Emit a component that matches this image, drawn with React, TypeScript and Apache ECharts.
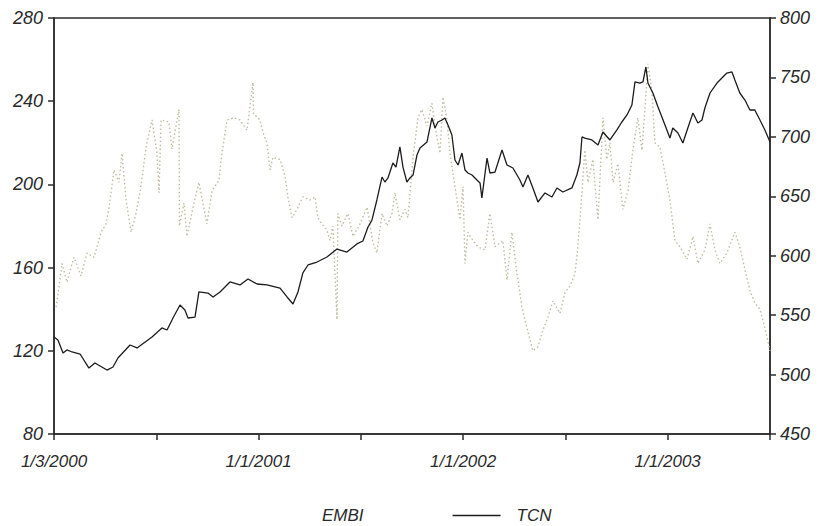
import React, { useEffect, useRef } from "react";
import * as echarts from "echarts";

// x = months since 3 Jan 2000
const xTickLabels: Record<number, string> = { 0: "1/3/2000", 12: "1/1/2001", 24: "1/1/2002", 36: "1/1/2003" };

const leftTicks = [80, 120, 160, 200, 240, 280];
const rightTicks = [450, 500, 550, 600, 650, 700, 750, 800];

const seriesNames = ["EMBI", "TCN"];

// EMBI (left axis)
const embiPoints: number[][] = [
  [0.12,141],[0.18,144],[0.47,162],[0.76,153],[1.17,165],[1.58,156],[1.94,167],[2.35,165],[2.76,177],[3.05,181],
  [3.23,189],[3.52,207],[3.81,201],[3.99,215],[4.22,193],[4.52,177],[4.81,186],[5.10,199],[5.40,218],[5.75,231],
  [6.04,215],[6.16,196],[6.28,231],[6.74,230],[6.92,217],[7.33,236],[7.36,180],[7.62,191],[7.80,175],[8.21,191],
  [8.50,201],[8.97,181],[9.27,197],[9.68,202],[9.85,215],[10.15,231],[10.56,232],[10.91,231],[11.32,226],[11.67,249],
  [11.70,234],[12.08,231],[12.26,225],[12.49,220],[12.67,207],[12.84,213],[13.26,212],[13.55,204],[13.72,194],[13.96,184],
  [14.25,188],[14.60,194],[15.01,192.5],[15.31,194],[15.48,184],[15.72,181],[16.01,178],[16.19,173],[16.36,180],[16.60,135],
  [16.65,186],[16.89,180],[17.24,186],[17.54,175],[17.95,181],[18.36,189],[18.71,172],[18.94,167],[19.24,186],[19.53,180],
  [19.82,186],[20.0,196],[20.29,183],[20.59,188],[20.76,184],[21.06,213],[21.35,232],[21.58,236],[21.88,228],[22.17,239],
  [22.35,228],[22.64,215],[22.82,242],[23.05,231],[23.23,215],[23.40,205.5],[23.64,192.5],[23.81,183],[23.99,199],[24.11,162],
  [24.28,177],[24.57,173],[24.87,170],[25.28,168.5],[25.57,186],[25.87,170],[26.33,173],[26.57,154],[26.86,177],[27.16,157],
  [27.45,141],[27.74,131],[28.09,120],[28.39,122],[28.68,130],[28.97,136],[29.27,144],[29.68,138],[29.97,148],[30.26,151],
  [30.56,157],[30.73,170],[30.97,196],[31.14,216.5],[31.32,201],[31.61,212],[31.91,183],[32.20,232],[32.43,212],[32.61,220],
  [32.79,201],[33.08,210],[33.37,188],[33.67,197],[33.96,216.5],[34.25,232],[34.49,216.5],[34.66,236],[34.84,258],[35.07,245],
  [35.25,220],[35.54,218],[35.84,205.5],[36.13,192.5],[36.42,173],[36.72,170],[37.13,164],[37.48,175],[37.77,162],[38.18,168.5],
  [38.48,181],[38.77,168.5],[39.06,162],[39.47,167],[39.94,177],[40.23,170],[40.53,159],[40.82,149],[41.11,143],[41.41,140],
  [41.70,131],[42.0,120]
];

// TCN (right axis)
const tcnPoints: number[][] = [
  [0,531.6],[0.23,529.1],[0.53,518.1],[0.76,520.7],[1.06,519.0],[1.53,517.3],[2.05,505.5],[2.40,509.7],[3.11,503.8],[3.46,506.4],
  [3.75,513.9],[4.46,524.9],[4.87,522.4],[5.75,531.6],[6.33,539.2],[6.63,537.5],[6.98,547.6],[7.39,558.5],[7.68,554.3],[7.86,547.6],
  [8.27,548.4],[8.50,569.5],[9.03,568.6],[9.33,565.3],[9.74,569.5],[10.32,577.9],[10.91,575.4],[11.38,580.4],[11.91,576.2],[12.49,575.4],
  [13.26,572.8],[13.67,565.3],[14.02,559.4],[14.31,569.5],[14.60,585.5],[14.90,592.2],[15.43,594.7],[16.01,598.9],[16.60,605.6],[17.18,603.1],
  [17.77,609.9],[18.12,612.4],[18.42,624.2],[18.65,630.0],[18.94,646.9],[19.24,666.2],[19.41,662.0],[19.59,665.4],[19.88,678.0],[20.06,674.6],
  [20.29,691.5],[20.47,674.6],[20.70,662.0],[20.88,665.4],[21.06,667.9],[21.29,684.7],[21.47,690.6],[21.88,695.7],[22.17,715.9],[22.35,707.5],
  [22.52,712.5],[22.76,714.2],[22.93,715.9],[23.11,710.0],[23.34,701.6],[23.52,680.5],[23.70,676.3],[23.93,686.4],[24.11,672.1],[24.28,669.6],
  [24.52,667.9],[24.81,663.7],[24.99,661.2],[25.10,648.6],[25.40,682.2],[25.57,669.6],[25.87,670.4],[26.28,688.9],[26.57,676.3],[26.92,673.8],
  [27.33,663.7],[27.51,657.8],[27.80,667.9],[28.09,657.0],[28.39,645.2],[28.80,652.8],[29.21,649.4],[29.50,657.0],[29.85,653.6],[30.38,657.0],
  [30.67,667.9],[30.85,678.0],[30.97,699.9],[31.14,699.0],[31.55,697.4],[31.91,693.1],[32.20,704.1],[32.61,697.4],[33.02,705.8],[33.31,712.5],
  [33.61,718.4],[33.90,726.8],[34.08,746.2],[34.37,745.3],[34.55,746.2],[34.72,758.8],[34.84,745.3],[35.13,736.9],[35.43,725.1],[35.84,710.0],
  [36.13,699.0],[36.30,707.5],[36.60,703.2],[36.89,694.8],[37.18,707.5],[37.48,720.1],[37.77,711.7],[38.01,714.2],[38.18,724.3],[38.48,736.9],
  [38.89,745.3],[39.18,749.5],[39.47,753.7],[39.77,754.6],[39.94,747.8],[40.23,736.9],[40.53,731.0],[40.82,722.6],[41.11,722.6],[41.41,714.2],
  [41.70,705.8],[42.0,695.7]
];

const FONT = "'Liberation Sans', Arial, sans-serif";
const AXIS_COLOR = "#2b2b2b";
const TEXT_COLOR = "#2a2a2a";
const EMBI_COLOR = "#c2bb9f";
const TCN_COLOR = "#1c1c1c";

export default function App() {
  const ref = useRef<HTMLDivElement>(null);

  useEffect(() => {
    if (!ref.current) return;
    const chart = echarts.init(ref.current, undefined, { renderer: "svg" });
    const labelStyle = {
      fontFamily: FONT,
      fontStyle: "italic" as const,
      fontSize: 18,
      color: TEXT_COLOR,
    };
    chart.setOption({
      animation: false,
      backgroundColor: "#ffffff",
      grid: {
        left: 54,
        right: 53,
        top: 18,
        bottom: 92,
        show: true,
        borderColor: AXIS_COLOR,
        borderWidth: 1.5,
        backgroundColor: "transparent",
      },
      legend: {
        data: [
          { name: seriesNames[0], icon: "rect", itemStyle: { color: EMBI_COLOR, opacity: 0 } },
          { name: seriesNames[1], icon: "rect", itemStyle: { color: TCN_COLOR } },
        ],
        left: 253,
        top: 502,
        itemWidth: 48,
        itemHeight: 1.6,
        itemGap: 89,
        textStyle: {
          fontFamily: FONT,
          fontStyle: "italic",
          fontSize: 17,
          color: TEXT_COLOR,
          padding: [0, 0, 0, 11],
        },
      },
      xAxis: {
        type: "value",
        min: 0,
        max: 42,
        interval: 6,
        axisLine: { show: true, onZero: false, lineStyle: { color: AXIS_COLOR, width: 1.5 } },
        axisTick: { show: true, inside: false, length: 6, lineStyle: { color: AXIS_COLOR, width: 1.5 } },
        splitLine: { show: false },
        axisLabel: {
          ...labelStyle,
          fontSize: 17,
          margin: 19,
          showMaxLabel: true,
          formatter: (v: number) => xTickLabels[Math.round(v)] ?? "",
        },
      },
      yAxis: [
        {
          type: "value",
          min: leftTicks[0],
          max: leftTicks[leftTicks.length - 1],
          interval: 40,
          position: "left",
          axisLine: { show: true, lineStyle: { color: AXIS_COLOR, width: 1.5 } },
          axisTick: { show: true, length: 6, lineStyle: { color: AXIS_COLOR, width: 1.5 } },
          splitLine: { show: false },
          axisLabel: { ...labelStyle, margin: 11 },
        },
        {
          type: "value",
          min: rightTicks[0],
          max: rightTicks[rightTicks.length - 1],
          interval: 50,
          position: "right",
          axisLine: { show: true, lineStyle: { color: AXIS_COLOR, width: 1.5 } },
          axisTick: { show: true, length: 6, lineStyle: { color: AXIS_COLOR, width: 1.5 } },
          splitLine: { show: false },
          axisLabel: { ...labelStyle, margin: 10 },
        },
      ],
      series: [
        {
          name: seriesNames[0],
          type: "line",
          yAxisIndex: 0,
          data: embiPoints,
          symbol: "none",
          lineStyle: { color: EMBI_COLOR, width: 1.4, type: [1.5, 2.5] },
          itemStyle: { color: EMBI_COLOR },
          z: 2,
        },
        {
          name: seriesNames[1],
          type: "line",
          yAxisIndex: 1,
          data: tcnPoints,
          symbol: "none",
          lineStyle: { color: TCN_COLOR, width: 1.3 },
          itemStyle: { color: TCN_COLOR },
          z: 3,
        },
      ],
    });
    return () => chart.dispose();
  }, []);

  return (
    <div
      ref={ref}
      style={{ position: "fixed", left: 0, top: 0, width: 823, height: 526, background: "#fff" }}
    />
  );
}
